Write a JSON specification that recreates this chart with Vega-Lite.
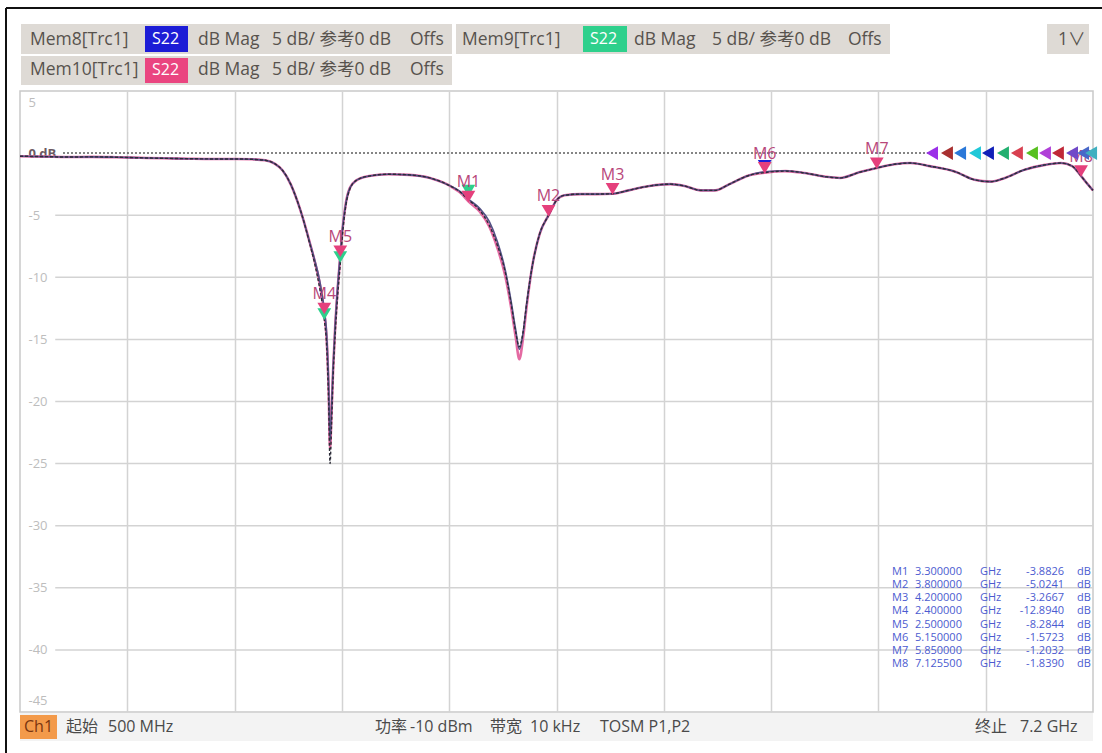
{
  "$schema": "https://vega.github.io/schema/vega-lite/v6.json",
  "width": 1073,
  "height": 621,
  "autosize": {"type": "none"},
  "padding": {"left": 20, "top": 91, "right": 9, "bottom": 41},
  "background": "white",
  "config": {
    "view": {"stroke": "#c9c9c9", "strokeWidth": 1.5},
    "text": {"font": "Open Sans, Noto Sans CJK SC"},
    "axis": {"labelFont": "Open Sans"},
    "locale": {"number": {"decimal": ".", "thousands": ",", "grouping": [3], "currency": ["$", ""], "minus": "-"}}
  },
  "datasets": {
    "curve": [
      {"trace": "Mem10", "f": 0.5, "db": -0.25}, {"trace": "Mem10", "f": 0.65, "db": -0.28}, {"trace": "Mem10", "f": 0.8, "db": -0.32}, {"trace": "Mem10", "f": 0.95, "db": -0.3}, {"trace": "Mem10", "f": 1.1, "db": -0.33}, {"trace": "Mem10", "f": 1.25, "db": -0.38}, {"trace": "Mem10", "f": 1.4, "db": -0.42}, {"trace": "Mem10", "f": 1.55, "db": -0.45}, {"trace": "Mem10", "f": 1.7, "db": -0.47}, {"trace": "Mem10", "f": 1.85, "db": -0.47}, {"trace": "Mem10", "f": 1.95, "db": -0.5}, {"trace": "Mem10", "f": 2.03, "db": -0.58}, {"trace": "Mem10", "f": 2.09, "db": -0.85}, {"trace": "Mem10", "f": 2.14, "db": -1.4}, {"trace": "Mem10", "f": 2.19, "db": -2.5}, {"trace": "Mem10", "f": 2.23, "db": -3.8}, {"trace": "Mem10", "f": 2.27, "db": -5.4}, {"trace": "Mem10", "f": 2.305, "db": -7.0}, {"trace": "Mem10", "f": 2.34, "db": -8.7}, {"trace": "Mem10", "f": 2.37, "db": -10.4}, {"trace": "Mem10", "f": 2.4, "db": -12.9}, {"trace": "Mem10", "f": 2.415, "db": -15.0}, {"trace": "Mem10", "f": 2.427, "db": -19.0}, {"trace": "Mem10", "f": 2.436, "db": -23.8}, {"trace": "Mem10", "f": 2.445, "db": -21.0}, {"trace": "Mem10", "f": 2.455, "db": -17.5}, {"trace": "Mem10", "f": 2.468, "db": -14.0}, {"trace": "Mem10", "f": 2.483, "db": -11.0}, {"trace": "Mem10", "f": 2.5, "db": -8.28}, {"trace": "Mem10", "f": 2.515, "db": -6.0}, {"trace": "Mem10", "f": 2.535, "db": -4.0}, {"trace": "Mem10", "f": 2.56, "db": -2.8}, {"trace": "Mem10", "f": 2.6, "db": -2.2}, {"trace": "Mem10", "f": 2.68, "db": -1.85}, {"trace": "Mem10", "f": 2.8, "db": -1.7}, {"trace": "Mem10", "f": 2.93, "db": -1.75}, {"trace": "Mem10", "f": 3.06, "db": -2.0}, {"trace": "Mem10", "f": 3.18, "db": -2.6}, {"trace": "Mem10", "f": 3.25, "db": -3.2}, {"trace": "Mem10", "f": 3.3, "db": -3.88}, {"trace": "Mem10", "f": 3.37, "db": -4.7}, {"trace": "Mem10", "f": 3.43, "db": -5.9}, {"trace": "Mem10", "f": 3.48, "db": -7.6}, {"trace": "Mem10", "f": 3.53, "db": -9.9}, {"trace": "Mem10", "f": 3.565, "db": -12.3}, {"trace": "Mem10", "f": 3.595, "db": -14.8}, {"trace": "Mem10", "f": 3.618, "db": -16.6}, {"trace": "Mem10", "f": 3.64, "db": -15.0}, {"trace": "Mem10", "f": 3.665, "db": -12.2}, {"trace": "Mem10", "f": 3.7, "db": -9.0}, {"trace": "Mem10", "f": 3.745, "db": -6.5}, {"trace": "Mem10", "f": 3.8, "db": -5.02}, {"trace": "Mem10", "f": 3.85, "db": -3.8}, {"trace": "Mem10", "f": 3.9, "db": -3.4}, {"trace": "Mem10", "f": 4.0, "db": -3.3}, {"trace": "Mem10", "f": 4.1, "db": -3.3}, {"trace": "Mem10", "f": 4.2, "db": -3.27}, {"trace": "Mem10", "f": 4.3, "db": -3.0}, {"trace": "Mem10", "f": 4.43, "db": -2.65}, {"trace": "Mem10", "f": 4.56, "db": -2.5}, {"trace": "Mem10", "f": 4.65, "db": -2.65}, {"trace": "Mem10", "f": 4.75, "db": -3.0}, {"trace": "Mem10", "f": 4.84, "db": -3.0}, {"trace": "Mem10", "f": 4.93, "db": -2.5}, {"trace": "Mem10", "f": 5.05, "db": -1.8}, {"trace": "Mem10", "f": 5.15, "db": -1.57}, {"trace": "Mem10", "f": 5.28, "db": -1.45}, {"trace": "Mem10", "f": 5.4, "db": -1.6}, {"trace": "Mem10", "f": 5.53, "db": -1.9}, {"trace": "Mem10", "f": 5.62, "db": -2.0}, {"trace": "Mem10", "f": 5.74, "db": -1.55}, {"trace": "Mem10", "f": 5.85, "db": -1.2}, {"trace": "Mem10", "f": 5.96, "db": -0.9}, {"trace": "Mem10", "f": 6.06, "db": -0.8}, {"trace": "Mem10", "f": 6.18, "db": -1.05}, {"trace": "Mem10", "f": 6.34, "db": -1.5}, {"trace": "Mem10", "f": 6.46, "db": -2.15}, {"trace": "Mem10", "f": 6.56, "db": -2.3}, {"trace": "Mem10", "f": 6.65, "db": -2.0}, {"trace": "Mem10", "f": 6.77, "db": -1.35}, {"trace": "Mem10", "f": 6.9, "db": -0.95}, {"trace": "Mem10", "f": 7.0, "db": -0.8}, {"trace": "Mem10", "f": 7.07, "db": -1.05}, {"trace": "Mem10", "f": 7.125, "db": -1.84}, {"trace": "Mem10", "f": 7.16, "db": -2.4}, {"trace": "Mem10", "f": 7.2, "db": -3.0},

      {"trace": "Mem8", "f": 0.5, "db": -0.25}, {"trace": "Mem8", "f": 0.65, "db": -0.28}, {"trace": "Mem8", "f": 0.8, "db": -0.32}, {"trace": "Mem8", "f": 0.95, "db": -0.3}, {"trace": "Mem8", "f": 1.1, "db": -0.33}, {"trace": "Mem8", "f": 1.25, "db": -0.38}, {"trace": "Mem8", "f": 1.4, "db": -0.42}, {"trace": "Mem8", "f": 1.55, "db": -0.45}, {"trace": "Mem8", "f": 1.7, "db": -0.47}, {"trace": "Mem8", "f": 1.85, "db": -0.47}, {"trace": "Mem8", "f": 1.95, "db": -0.5}, {"trace": "Mem8", "f": 2.03, "db": -0.58}, {"trace": "Mem8", "f": 2.09, "db": -0.85}, {"trace": "Mem8", "f": 2.14, "db": -1.4}, {"trace": "Mem8", "f": 2.19, "db": -2.5}, {"trace": "Mem8", "f": 2.23, "db": -3.8}, {"trace": "Mem8", "f": 2.27, "db": -5.4}, {"trace": "Mem8", "f": 2.305, "db": -7.0}, {"trace": "Mem8", "f": 2.34, "db": -8.6}, {"trace": "Mem8", "f": 2.37, "db": -10.2}, {"trace": "Mem8", "f": 2.4, "db": -12.6}, {"trace": "Mem8", "f": 2.415, "db": -14.6}, {"trace": "Mem8", "f": 2.427, "db": -18.5}, {"trace": "Mem8", "f": 2.436, "db": -23.2}, {"trace": "Mem8", "f": 2.445, "db": -20.6}, {"trace": "Mem8", "f": 2.455, "db": -17.2}, {"trace": "Mem8", "f": 2.468, "db": -13.8}, {"trace": "Mem8", "f": 2.483, "db": -10.8}, {"trace": "Mem8", "f": 2.5, "db": -8.1}, {"trace": "Mem8", "f": 2.515, "db": -5.9}, {"trace": "Mem8", "f": 2.535, "db": -4.0}, {"trace": "Mem8", "f": 2.56, "db": -2.8}, {"trace": "Mem8", "f": 2.6, "db": -2.2}, {"trace": "Mem8", "f": 2.68, "db": -1.85}, {"trace": "Mem8", "f": 2.8, "db": -1.7}, {"trace": "Mem8", "f": 2.93, "db": -1.75}, {"trace": "Mem8", "f": 3.06, "db": -2.0}, {"trace": "Mem8", "f": 3.18, "db": -2.6}, {"trace": "Mem8", "f": 3.25, "db": -3.1}, {"trace": "Mem8", "f": 3.3, "db": -3.7}, {"trace": "Mem8", "f": 3.37, "db": -4.45}, {"trace": "Mem8", "f": 3.43, "db": -5.5}, {"trace": "Mem8", "f": 3.48, "db": -7.1}, {"trace": "Mem8", "f": 3.53, "db": -9.4}, {"trace": "Mem8", "f": 3.565, "db": -11.8}, {"trace": "Mem8", "f": 3.595, "db": -14.2}, {"trace": "Mem8", "f": 3.618, "db": -15.8}, {"trace": "Mem8", "f": 3.64, "db": -14.6}, {"trace": "Mem8", "f": 3.665, "db": -12.0}, {"trace": "Mem8", "f": 3.7, "db": -9.0}, {"trace": "Mem8", "f": 3.745, "db": -6.5}, {"trace": "Mem8", "f": 3.8, "db": -5.02}, {"trace": "Mem8", "f": 3.85, "db": -3.8}, {"trace": "Mem8", "f": 3.9, "db": -3.4}, {"trace": "Mem8", "f": 4.0, "db": -3.3}, {"trace": "Mem8", "f": 4.1, "db": -3.3}, {"trace": "Mem8", "f": 4.2, "db": -3.27}, {"trace": "Mem8", "f": 4.3, "db": -3.0}, {"trace": "Mem8", "f": 4.43, "db": -2.65}, {"trace": "Mem8", "f": 4.56, "db": -2.5}, {"trace": "Mem8", "f": 4.65, "db": -2.65}, {"trace": "Mem8", "f": 4.75, "db": -3.0}, {"trace": "Mem8", "f": 4.84, "db": -3.0}, {"trace": "Mem8", "f": 4.93, "db": -2.5}, {"trace": "Mem8", "f": 5.05, "db": -1.8}, {"trace": "Mem8", "f": 5.15, "db": -1.5}, {"trace": "Mem8", "f": 5.28, "db": -1.42}, {"trace": "Mem8", "f": 5.4, "db": -1.6}, {"trace": "Mem8", "f": 5.53, "db": -1.9}, {"trace": "Mem8", "f": 5.62, "db": -2.0}, {"trace": "Mem8", "f": 5.74, "db": -1.55}, {"trace": "Mem8", "f": 5.85, "db": -1.2}, {"trace": "Mem8", "f": 5.96, "db": -0.9}, {"trace": "Mem8", "f": 6.06, "db": -0.8}, {"trace": "Mem8", "f": 6.18, "db": -1.05}, {"trace": "Mem8", "f": 6.34, "db": -1.5}, {"trace": "Mem8", "f": 6.46, "db": -2.15}, {"trace": "Mem8", "f": 6.56, "db": -2.3}, {"trace": "Mem8", "f": 6.65, "db": -2.0}, {"trace": "Mem8", "f": 6.77, "db": -1.35}, {"trace": "Mem8", "f": 6.9, "db": -0.95}, {"trace": "Mem8", "f": 7.0, "db": -0.8}, {"trace": "Mem8", "f": 7.07, "db": -1.05}, {"trace": "Mem8", "f": 7.125, "db": -1.84}, {"trace": "Mem8", "f": 7.16, "db": -2.4}, {"trace": "Mem8", "f": 7.2, "db": -3.0},

      {"trace": "Mem9", "f": 0.5, "db": -0.25}, {"trace": "Mem9", "f": 0.65, "db": -0.28}, {"trace": "Mem9", "f": 0.8, "db": -0.32}, {"trace": "Mem9", "f": 0.95, "db": -0.3}, {"trace": "Mem9", "f": 1.1, "db": -0.33}, {"trace": "Mem9", "f": 1.25, "db": -0.38}, {"trace": "Mem9", "f": 1.4, "db": -0.42}, {"trace": "Mem9", "f": 1.55, "db": -0.45}, {"trace": "Mem9", "f": 1.7, "db": -0.47}, {"trace": "Mem9", "f": 1.85, "db": -0.47}, {"trace": "Mem9", "f": 1.95, "db": -0.5}, {"trace": "Mem9", "f": 2.03, "db": -0.58}, {"trace": "Mem9", "f": 2.09, "db": -0.85}, {"trace": "Mem9", "f": 2.14, "db": -1.4}, {"trace": "Mem9", "f": 2.19, "db": -2.5}, {"trace": "Mem9", "f": 2.23, "db": -3.8}, {"trace": "Mem9", "f": 2.27, "db": -5.4}, {"trace": "Mem9", "f": 2.305, "db": -7.1}, {"trace": "Mem9", "f": 2.34, "db": -8.9}, {"trace": "Mem9", "f": 2.37, "db": -10.8}, {"trace": "Mem9", "f": 2.4, "db": -13.4}, {"trace": "Mem9", "f": 2.415, "db": -15.6}, {"trace": "Mem9", "f": 2.427, "db": -20.0}, {"trace": "Mem9", "f": 2.436, "db": -25.0}, {"trace": "Mem9", "f": 2.445, "db": -22.0}, {"trace": "Mem9", "f": 2.455, "db": -18.0}, {"trace": "Mem9", "f": 2.468, "db": -14.6}, {"trace": "Mem9", "f": 2.483, "db": -11.6}, {"trace": "Mem9", "f": 2.5, "db": -8.9}, {"trace": "Mem9", "f": 2.515, "db": -6.4}, {"trace": "Mem9", "f": 2.535, "db": -4.2}, {"trace": "Mem9", "f": 2.56, "db": -2.9}, {"trace": "Mem9", "f": 2.6, "db": -2.2}, {"trace": "Mem9", "f": 2.68, "db": -1.85}, {"trace": "Mem9", "f": 2.8, "db": -1.7}, {"trace": "Mem9", "f": 2.93, "db": -1.75}, {"trace": "Mem9", "f": 3.06, "db": -2.0}, {"trace": "Mem9", "f": 3.18, "db": -2.6}, {"trace": "Mem9", "f": 3.25, "db": -3.15}, {"trace": "Mem9", "f": 3.3, "db": -3.75}, {"trace": "Mem9", "f": 3.37, "db": -4.6}, {"trace": "Mem9", "f": 3.43, "db": -5.8}, {"trace": "Mem9", "f": 3.48, "db": -7.4}, {"trace": "Mem9", "f": 3.53, "db": -9.6}, {"trace": "Mem9", "f": 3.565, "db": -12.0}, {"trace": "Mem9", "f": 3.595, "db": -14.4}, {"trace": "Mem9", "f": 3.618, "db": -15.6}, {"trace": "Mem9", "f": 3.64, "db": -14.5}, {"trace": "Mem9", "f": 3.665, "db": -12.0}, {"trace": "Mem9", "f": 3.7, "db": -9.0}, {"trace": "Mem9", "f": 3.745, "db": -6.5}, {"trace": "Mem9", "f": 3.8, "db": -5.02}, {"trace": "Mem9", "f": 3.85, "db": -3.8}, {"trace": "Mem9", "f": 3.9, "db": -3.4}, {"trace": "Mem9", "f": 4.0, "db": -3.3}, {"trace": "Mem9", "f": 4.1, "db": -3.3}, {"trace": "Mem9", "f": 4.2, "db": -3.27}, {"trace": "Mem9", "f": 4.3, "db": -3.0}, {"trace": "Mem9", "f": 4.43, "db": -2.65}, {"trace": "Mem9", "f": 4.56, "db": -2.5}, {"trace": "Mem9", "f": 4.65, "db": -2.65}, {"trace": "Mem9", "f": 4.75, "db": -3.0}, {"trace": "Mem9", "f": 4.84, "db": -3.0}, {"trace": "Mem9", "f": 4.93, "db": -2.5}, {"trace": "Mem9", "f": 5.05, "db": -1.8}, {"trace": "Mem9", "f": 5.15, "db": -1.57}, {"trace": "Mem9", "f": 5.28, "db": -1.45}, {"trace": "Mem9", "f": 5.4, "db": -1.6}, {"trace": "Mem9", "f": 5.53, "db": -1.9}, {"trace": "Mem9", "f": 5.62, "db": -2.0}, {"trace": "Mem9", "f": 5.74, "db": -1.55}, {"trace": "Mem9", "f": 5.85, "db": -1.2}, {"trace": "Mem9", "f": 5.96, "db": -0.9}, {"trace": "Mem9", "f": 6.06, "db": -0.8}, {"trace": "Mem9", "f": 6.18, "db": -1.05}, {"trace": "Mem9", "f": 6.34, "db": -1.5}, {"trace": "Mem9", "f": 6.46, "db": -2.15}, {"trace": "Mem9", "f": 6.56, "db": -2.3}, {"trace": "Mem9", "f": 6.65, "db": -2.0}, {"trace": "Mem9", "f": 6.77, "db": -1.35}, {"trace": "Mem9", "f": 6.9, "db": -0.95}, {"trace": "Mem9", "f": 7.0, "db": -0.8}, {"trace": "Mem9", "f": 7.07, "db": -1.05}, {"trace": "Mem9", "f": 7.125, "db": -1.84}, {"trace": "Mem9", "f": 7.16, "db": -2.4}, {"trace": "Mem9", "f": 7.2, "db": -3.0}
    ],
    "markers": [
      {"m": "M1", "trace": "Mem10", "f": 3.3, "db": -3.8826},
      {"m": "M2", "trace": "Mem10", "f": 3.8, "db": -5.0241},
      {"m": "M3", "trace": "Mem10", "f": 4.2, "db": -3.2667},
      {"m": "M4", "trace": "Mem10", "f": 2.4, "db": -12.894},
      {"m": "M5", "trace": "Mem10", "f": 2.5, "db": -8.2844},
      {"m": "M6", "trace": "Mem10", "f": 5.15, "db": -1.5723},
      {"m": "M7", "trace": "Mem10", "f": 5.85, "db": -1.2032},
      {"m": "M8", "trace": "Mem10", "f": 7.1255, "db": -1.839},
      {"m": "M1", "trace": "Mem9", "f": 3.3, "db": -3.4},
      {"m": "M4", "trace": "Mem9", "f": 2.4, "db": -13.35},
      {"m": "M5", "trace": "Mem9", "f": 2.5, "db": -8.75},
      {"m": "M6", "trace": "Mem8", "f": 5.15, "db": -1.4}
    ],
    "refs": [
      {"trc": "T1", "f": 6.195}, {"trc": "T2", "f": 6.288}, {"trc": "T3", "f": 6.37}, {"trc": "T4", "f": 6.463}, {"trc": "T5", "f": 6.544}, {"trc": "T6", "f": 6.638}, {"trc": "T7", "f": 6.725}, {"trc": "T8", "f": 6.819}, {"trc": "T9", "f": 6.9}, {"trc": "T10", "f": 6.981}, {"trc": "T11", "f": 7.069}, {"trc": "T12", "f": 7.138}, {"trc": "T13", "f": 7.188}
    ],
    "ygrid": [
      {"v": -5}, {"v": -10}, {"v": -15}, {"v": -20}, {"v": -25}, {"v": -30}, {"v": -35}, {"v": -40}
    ],
    "boxes": [
      {"kind": "panel", "x1": 0.5062, "x2": 3.1975, "y1": 10.394, "y2": 7.979},
      {"kind": "panel", "x1": 3.2225, "x2": 5.9325, "y1": 10.394, "y2": 7.979},
      {"kind": "panel", "x1": 0.5062, "x2": 3.1975, "y1": 7.818, "y2": 5.483},
      {"kind": "panel", "x1": 6.9128, "x2": 7.175, "y1": 10.394, "y2": 7.979},
      {"kind": "Mem8", "x1": 1.2805, "x2": 1.549, "y1": 10.233, "y2": 8.14},
      {"kind": "Mem9", "x1": 4.0155, "x2": 4.2902, "y1": 10.233, "y2": 8.14},
      {"kind": "Mem10", "x1": 1.2805, "x2": 1.549, "y1": 7.657, "y2": 5.644},
      {"kind": "bar", "x1": 0.5, "x2": 7.2, "y1": -45.08, "y2": -47.335},
      {"kind": "ch", "x1": 0.5, "x2": 0.731, "y1": -45.24, "y2": -47.17}
    ],
    "texts": [
      {"kind": "hdr", "text": "Mem8[Trc1]", "f": 0.5624, "db": 9.106},
      {"kind": "s22", "text": "S22", "f": 1.324, "db": 9.19},
      {"kind": "hdr", "text": "dB Mag", "f": 1.6115, "db": 9.106},
      {"kind": "hdr", "text": "5 dB/ 参考0 dB", "f": 2.0735, "db": 9.106},
      {"kind": "hdr", "text": "Offs", "f": 2.9352, "db": 9.106},
      {"kind": "hdr", "text": "Mem9[Trc1]", "f": 3.26, "db": 9.106},
      {"kind": "s22", "text": "S22", "f": 4.0592, "db": 9.19},
      {"kind": "hdr", "text": "dB Mag", "f": 4.334, "db": 9.106},
      {"kind": "hdr", "text": "5 dB/ 参考0 dB", "f": 4.821, "db": 9.106},
      {"kind": "hdr", "text": "Offs", "f": 5.67, "db": 9.106},
      {"kind": "hdr", "text": "1∨", "f": 6.9815, "db": 9.106},
      {"kind": "hdr", "text": "Mem10[Trc1]", "f": 0.5624, "db": 6.651},
      {"kind": "s22", "text": "S22", "f": 1.324, "db": 6.651},
      {"kind": "hdr", "text": "dB Mag", "f": 1.6115, "db": 6.651},
      {"kind": "hdr", "text": "5 dB/ 参考0 dB", "f": 2.0735, "db": 6.651},
      {"kind": "hdr", "text": "Offs", "f": 2.9352, "db": 6.651},
      {"kind": "ch", "text": "Ch1", "f": 0.525, "db": -46.21},
      {"kind": "bot", "text": "起始", "f": 0.7872, "db": -46.21},
      {"kind": "bot", "text": "500 MHz", "f": 1.0495, "db": -46.21},
      {"kind": "bot", "text": "功率", "f": 2.7167, "db": -46.21},
      {"kind": "bot", "text": "-10 dBm", "f": 2.9352, "db": -46.21},
      {"kind": "bot", "text": "带宽", "f": 3.4348, "db": -46.21},
      {"kind": "bot", "text": "10 kHz", "f": 3.6845, "db": -46.21},
      {"kind": "bot", "text": "TOSM P1,P2", "f": 4.1216, "db": -46.21},
      {"kind": "bot", "text": "终止", "f": 6.4631, "db": -46.21},
      {"kind": "bot", "text": "7.2 GHz", "f": 6.7442, "db": -46.21}
    ]
  },
  "layer": [
    {
      "layer": [
        {
          "data": {"name": "ygrid"},
          "mark": {"type": "rule", "color": "#d3d3d3", "strokeWidth": 1.5},
          "encoding": {
            "y": {"field": "v", "type": "quantitative"},
            "x": {"datum": 0.72},
            "x2": {"datum": 7.2}
          }
        },
        {
          "data": {"name": "boxes"},
          "mark": {"type": "rect"},
          "encoding": {
            "x": {"field": "x1", "type": "quantitative"},
            "x2": {"field": "x2"},
            "y": {"field": "y1", "type": "quantitative"},
            "y2": {"field": "y2"},
            "fill": {"field": "kind", "type": "nominal", "legend": null,
              "scale": {"domain": ["panel", "Mem8", "Mem9", "Mem10", "bar", "ch"], "range": ["#dedad5", "#1c1cd6", "#2ed08c", "#ea4580", "#f3f3f3", "#f39a4a"]}}
          }
        },
        {
          "data": {"name": "texts"},
          "transform": [{"filter": "datum.kind == 'hdr'"}],
          "mark": {"type": "text", "align": "left", "baseline": "middle", "fontSize": 17.5, "color": "#57524d"},
          "encoding": {
            "x": {"field": "f", "type": "quantitative"},
            "y": {"field": "db", "type": "quantitative"},
            "text": {"field": "text"}
          }
        },
        {
          "data": {"name": "texts"},
          "transform": [{"filter": "datum.kind == 's22'"}],
          "mark": {"type": "text", "align": "left", "baseline": "middle", "fontSize": 16, "color": "#ffffff"},
          "encoding": {
            "x": {"field": "f", "type": "quantitative"},
            "y": {"field": "db", "type": "quantitative"},
            "text": {"field": "text"}
          }
        },
        {
          "data": {"name": "texts"},
          "transform": [{"filter": "datum.kind == 'ch'"}],
          "mark": {"type": "text", "align": "left", "baseline": "middle", "fontSize": 16, "color": "#7a3510"},
          "encoding": {
            "x": {"field": "f", "type": "quantitative"},
            "y": {"field": "db", "type": "quantitative"},
            "text": {"field": "text"}
          }
        },
        {
          "data": {"name": "texts"},
          "transform": [{"filter": "datum.kind == 'bot'"}],
          "mark": {"type": "text", "align": "left", "baseline": "middle", "fontSize": 16, "color": "#4a4a4a"},
          "encoding": {
            "x": {"field": "f", "type": "quantitative"},
            "y": {"field": "db", "type": "quantitative"},
            "text": {"field": "text"}
          }
        },
        {
          "data": {"values": [{}]},
          "mark": {"type": "rule", "color": "#5e5e5e", "strokeWidth": 1.5, "strokeDash": [2, 2]},
          "encoding": {
            "y": {"datum": 0},
            "x": {"datum": 0.7685},
            "x2": {"datum": 6.19}
          }
        },
        {
          "data": {"name": "curve"},
          "transform": [{"filter": "datum.trace == 'Mem10'"}],
          "mark": {"type": "line", "color": "#e46aa2", "strokeWidth": 2.6, "interpolate": "monotone"},
          "encoding": {
            "x": {"field": "f", "type": "quantitative",
              "scale": {"domain": [0.5, 7.2], "nice": false, "zero": false},
              "axis": {"values": [1.17, 1.84, 2.51, 3.18, 3.85, 4.52, 5.19, 5.86, 6.53], "grid": true, "gridColor": "#d3d3d3", "gridWidth": 1.5, "labels": false, "ticks": false, "domain": false, "title": null}},
            "y": {"field": "db", "type": "quantitative",
              "scale": {"domain": [-45, 5], "nice": false, "zero": false},
              "axis": {"values": [5, 0, -5, -10, -15, -20, -25, -30, -35, -40, -45], "grid": false, "ticks": false, "tickSize": 0, "domain": false,
                "labelAlign": "left", "labelPadding": -8, "labelFlush": true, "labelFlushOffset": -5, "labelFontSize": 13,
                "labelColor": {"condition": {"test": "datum.value == 0", "value": "#6d5a63"}, "value": "#bdbdbd"},
                "labelFontWeight": {"condition": {"test": "datum.value == 0", "value": "bold"}, "value": "normal"},
                "labelExpr": "datum.value == 0 ? '0 dB' : datum.label", "title": null}},
            "order": {"field": "f", "type": "quantitative"}
          }
        },
        {
          "data": {"name": "curve"},
          "transform": [{"filter": "datum.trace == 'Mem8'"}],
          "mark": {"type": "line", "color": "#545087", "strokeWidth": 1.6, "interpolate": "monotone"},
          "encoding": {
            "x": {"field": "f", "type": "quantitative"},
            "y": {"field": "db", "type": "quantitative"},
            "order": {"field": "f", "type": "quantitative"}
          }
        },
        {
          "data": {"name": "curve"},
          "transform": [{"filter": "datum.trace == 'Mem9'"}],
          "mark": {"type": "line", "color": "#2c2c38", "strokeWidth": 1.4, "strokeDash": [3, 2], "interpolate": "monotone"},
          "encoding": {
            "x": {"field": "f", "type": "quantitative"},
            "y": {"field": "db", "type": "quantitative"},
            "order": {"field": "f", "type": "quantitative"}
          }
        },
        {
          "data": {"name": "markers"},
          "transform": [{"filter": "datum.trace != 'Mem10'"}],
          "mark": {"type": "point", "filled": true, "size": 450, "opacity": 1, "shape": "M-0.65,-1 L0.65,-1 L0,0.1 Z"},
          "encoding": {
            "x": {"field": "f", "type": "quantitative"},
            "y": {"field": "db", "type": "quantitative"},
            "fill": {"field": "trace", "type": "nominal", "legend": null}
          }
        },
        {
          "data": {"name": "markers"},
          "transform": [{"filter": "datum.trace == 'Mem10'"}],
          "mark": {"type": "point", "filled": true, "size": 450, "opacity": 1, "shape": "M-0.65,-1 L0.65,-1 L0,0.1 Z", "color": "#e5407c"},
          "encoding": {
            "x": {"field": "f", "type": "quantitative"},
            "y": {"field": "db", "type": "quantitative"}
          }
        },
        {
          "data": {"name": "markers"},
          "transform": [{"filter": "datum.trace == 'Mem10'"}],
          "mark": {"type": "text", "align": "center", "baseline": "middle", "dy": -19, "fontSize": 16, "color": "#b8477a"},
          "encoding": {
            "x": {"field": "f", "type": "quantitative"},
            "y": {"field": "db", "type": "quantitative"},
            "text": {"field": "m"}
          }
        },
        {
          "data": {"name": "refs"},
          "mark": {"type": "point", "filled": true, "opacity": 1, "size": 190, "shape": "triangle-left"},
          "encoding": {
            "x": {"field": "f", "type": "quantitative"},
            "y": {"datum": 0},
            "color": {"field": "trc", "type": "nominal", "legend": null,
              "scale": {"domain": ["T1", "T2", "T3", "T4", "T5", "T6", "T7", "T8", "T9", "T10", "T11", "T12", "T13"],
                "range": ["#9a30e8", "#a83030", "#2a78d8", "#20c8d8", "#1020b8", "#22b070", "#d84050", "#58c020", "#b040d8", "#c02838", "#7048c8", "#4868c8", "#40b0c0"]}}
          }
        },
        {
          "data": {"values": [{}]},
          "mark": {"type": "rule", "color": "#111111", "strokeWidth": 2},
          "encoding": {
            "x": {"datum": 0.4126},
            "y": {"datum": 11.683},
            "y2": {"datum": -48.6}
          }
        },
        {
          "data": {"values": [{}]},
          "mark": {"type": "rule", "color": "#111111", "strokeWidth": 2},
          "encoding": {
            "y": {"datum": 11.683},
            "x": {"datum": 0.4126},
            "x2": {"datum": 7.27}
          }
        }
      ]
    },
    {
      "data": {"name": "markers"},
      "transform": [{"filter": "datum.trace == 'Mem10'"}],
      "encoding": {
        "y": {"field": "m", "type": "ordinal", "axis": null,
          "scale": {"type": "point", "domain": ["M1", "M2", "M3", "M4", "M5", "M6", "M7", "M8"], "range": [481, 573], "padding": 0}}
      },
      "layer": [
        {
          "mark": {"type": "text", "align": "left", "baseline": "middle", "fontSize": 11, "color": "#4b5bd0"},
          "encoding": {"x": {"datum": 5.9449}, "text": {"field": "m"}}
        },
        {
          "mark": {"type": "text", "align": "left", "baseline": "middle", "fontSize": 11, "color": "#4b5bd0"},
          "encoding": {"x": {"datum": 6.0886}, "text": {"field": "f", "type": "quantitative", "format": ".6f"}}
        },
        {
          "mark": {"type": "text", "align": "left", "baseline": "middle", "fontSize": 11, "color": "#4b5bd0"},
          "encoding": {"x": {"datum": 6.4944}, "text": {"value": "GHz"}}
        },
        {
          "mark": {"type": "text", "align": "right", "baseline": "middle", "fontSize": 11, "color": "#4b5bd0"},
          "encoding": {"x": {"datum": 7.019}, "text": {"field": "db", "type": "quantitative", "format": ".4f"}}
        },
        {
          "mark": {"type": "text", "align": "left", "baseline": "middle", "fontSize": 11, "color": "#4b5bd0"},
          "encoding": {"x": {"datum": 7.1001}, "text": {"value": "dB"}}
        }
      ]
    }
  ],
  "resolve": {"scale": {"y": "independent"}}
}
